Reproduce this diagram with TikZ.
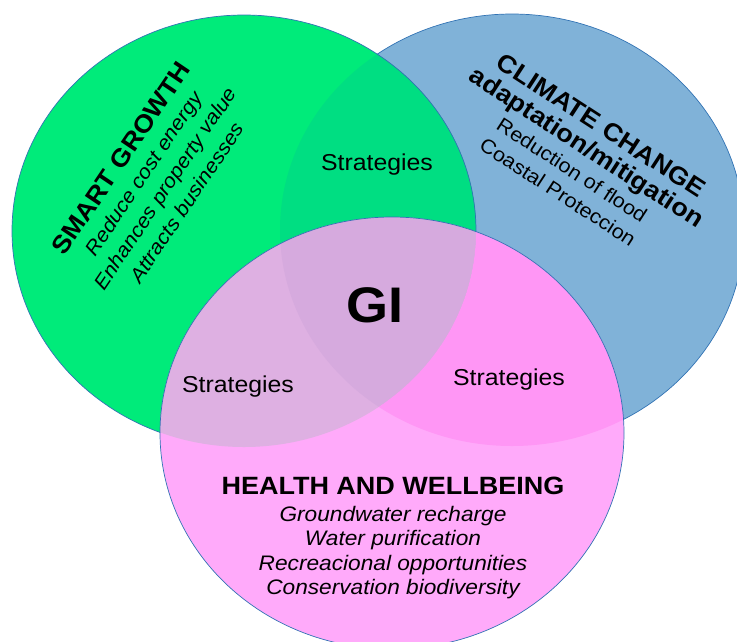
\documentclass[tikz,border=0pt]{standalone}
\usepackage{fontspec}
\setmainfont{Liberation Sans}[FakeStretch=1.08]
\usetikzlibrary{positioning}

\definecolor{growthgreen}{RGB}{0,235,122}
\definecolor{climateblue}{RGB}{128,178,216}
\definecolor{healthpink}{RGB}{255,170,250}
\definecolor{gbmix}{RGB}{0,222,130}
\definecolor{gpmix}{RGB}{222,176,226}
\definecolor{bpmix}{RGB}{255,150,245}
\definecolor{allmix}{RGB}{214,170,222}
\definecolor{ringline}{RGB}{50,115,180}

\begin{document}
\begin{tikzpicture}[x=1pt,y=-1pt,
  rad/.style={x radius=232, y radius=216},
  ring/.style={draw=ringline, line width=0.7pt},
  strat/.style={font=\fontsize{23}{27}\selectfont}]
\useasboundingbox (0,0) rectangle (737,641);

% Centres
\coordinate (cg) at (244,231);
\coordinate (cb) at (512,230);
\coordinate (cp) at (392,433);

% Circles
\fill[climateblue] (cb) ellipse [rad];
\fill[growthgreen] (cg) ellipse [rad];
\fill[healthpink] (cp) ellipse [rad];

% Overlaps
\begin{scope}
  \clip (cg) ellipse [rad];
  \fill[gbmix] (cb) ellipse [rad];
  \fill[gpmix] (cp) ellipse [rad];
  \clip (cb) ellipse [rad];
  \fill[allmix] (cp) ellipse [rad];
\end{scope}
\begin{scope}[even odd rule]
  \clip (cb) ellipse [rad];
  \clip (-10,-10) rectangle (760,660) (cg) ellipse [rad];
  \fill[bpmix] (cp) ellipse [rad];
\end{scope}

% Outlines
\begin{scope}[even odd rule]
  \clip (-10,-10) rectangle (760,660) (cg) ellipse [rad];
  \clip (-10,-10) rectangle (760,660) (cp) ellipse [rad];
  \draw[ring] (cb) ellipse [rad];
\end{scope}
\begin{scope}[even odd rule]
  \clip (-10,-10) rectangle (760,660) (cp) ellipse [rad];
  \draw[ring] (cg) ellipse [rad];
\end{scope}
\draw[ring] (cp) ellipse [rad];

% Labels
\node[font=\bfseries\fontsize{50}{56}\selectfont] (gi) at (375,305) {GI};
\node[strat] (stratTop) at (377,165) {Strategies};
\node[strat] (stratLeft) at (238,387) {Strategies};
\node[strat] (stratRight) at (509,380) {Strategies};

\node[rotate=56, align=center, font=\itshape\fontsize{20}{26}\selectfont] (growth) at (153,180)
  {{\upshape\bfseries\fontsize{25}{26}\selectfont SMART GROWTH}\\
   Reduce cost energy\\ Enhances property value\\ Attracts businesses};

\node[rotate=-33, align=center, font=\fontsize{20}{26}\selectfont] (climate) at (580,158)
  {{\bfseries\fontsize{25}{30}\selectfont CLIMATE CHANGE}\\
   {\bfseries\fontsize{25}{27}\selectfont adaptation/mitigation}\\
   Reduction of flood\\ Coastal Proteccion};

\node[align=center, font=\itshape\fontsize{21}{24.5}\selectfont] (health) at (393,538)
  {{\upshape\bfseries\fontsize{25}{28}\selectfont HEALTH AND WELLBEING}\\[2pt]
   Groundwater recharge\\ Water purification\\
   Recreacional opportunities\\ Conservation biodiversity};
\end{tikzpicture}
\end{document}
